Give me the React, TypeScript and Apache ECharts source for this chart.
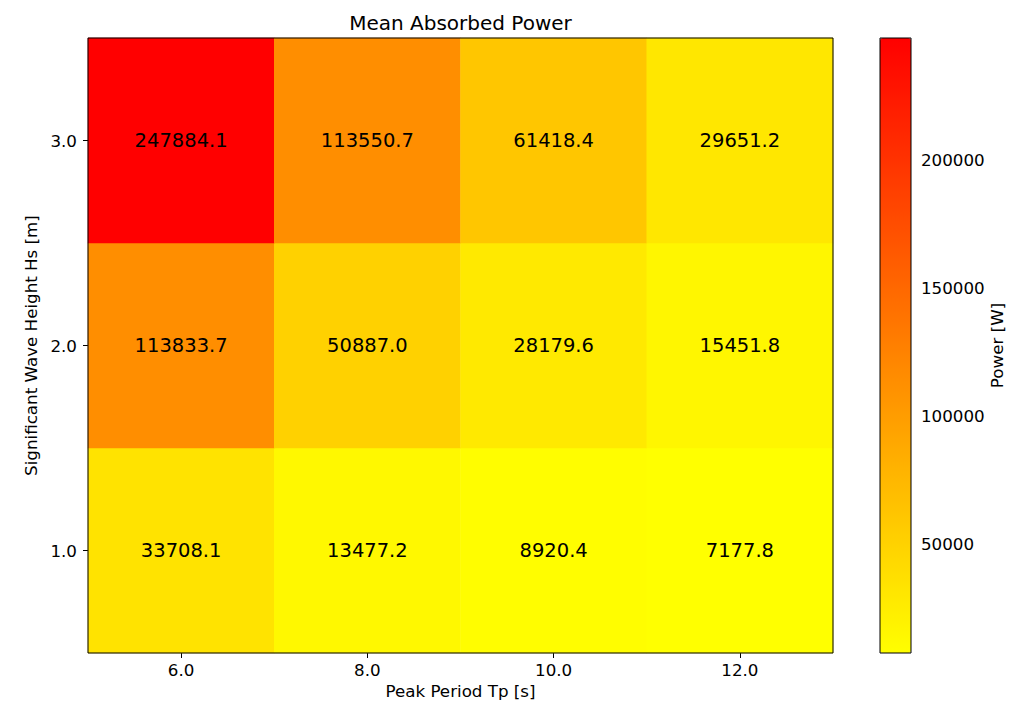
import React, { useEffect, useRef } from 'react';
import * as echarts from 'echarts';

const periods = ['6.0', '8.0', '10.0', '12.0'];
const heights = ['1.0', '2.0', '3.0'];
// mean absorbed power per Hs row, one value per Tp column
const powerHs1 = [33708.1, 13477.2, 8920.4, 7177.8];
const powerHs2 = [113833.7, 50887.0, 28179.6, 15451.8];
const powerHs3 = [247884.1, 113550.7, 61418.4, 29651.2];
const colorbarTicks = [50000, 100000, 150000, 200000];

const FONT = 'DejaVu Sans';

const App: React.FC = () => {
  const chartRef = useRef<HTMLDivElement>(null);

  useEffect(() => {
    if (!chartRef.current) return;
    document.body.style.margin = '0';

    const chart = echarts.init(chartRef.current, undefined, { renderer: 'svg' });

    const rows = [powerHs1, powerHs2, powerHs3];
    const data: [number, number, number][] = [];
    rows.forEach((row, yi) => row.forEach((v, xi) => data.push([xi, yi, v])));
    const all = rows.flat();
    const vmin = Math.min(...all);
    const vmax = Math.max(...all);

    const tickStyle = { color: '#000', fontSize: 16.7, fontFamily: FONT };

    const option: echarts.EChartsOption = {
      animation: false,
      backgroundColor: '#fff',
      textStyle: { fontFamily: FONT },
      grid: [
        {
          left: 88,
          top: 38,
          width: 745,
          height: 615,
          show: true,
          borderColor: '#000',
          borderWidth: 1,
          backgroundColor: 'transparent',
          z: 3,
        },
        {
          left: 880,
          top: 38,
          width: 31,
          height: 615,
          show: true,
          borderColor: '#000',
          borderWidth: 1,
          backgroundColor: 'transparent',
          z: 6,
        },
      ],
      xAxis: [
        {
          type: 'category',
          data: periods,
          gridIndex: 0,
          axisLine: { show: false },
          axisTick: { show: true, alignWithLabel: true, length: 5, lineStyle: { color: '#000' } },
          axisLabel: { ...tickStyle, margin: 8 },
          splitLine: { show: false },
          name: 'Peak Period Tp [s]',
          nameLocation: 'middle',
          nameGap: 27,
          nameTextStyle: { ...tickStyle },
        },
        {
          type: 'value',
          gridIndex: 1,
          show: false,
          min: 0,
          max: 1,
        },
      ],
      yAxis: [
        {
          type: 'category',
          data: heights,
          gridIndex: 0,
          axisLine: { show: false },
          axisTick: { show: true, alignWithLabel: true, length: 5, lineStyle: { color: '#000' } },
          axisLabel: { ...tickStyle, margin: 11 },
          splitLine: { show: false },
          name: 'Significant Wave Height Hs [m]',
          nameLocation: 'middle',
          nameGap: 45,
          nameTextStyle: { ...tickStyle },
        },
        {
          type: 'value',
          gridIndex: 1,
          position: 'right',
          min: vmin,
          max: vmax,
          axisLine: { show: false },
          axisTick: {
            show: true,
            length: 5,
            customValues: colorbarTicks,
            lineStyle: { color: '#000' },
          },
          axisLabel: {
            ...tickStyle,
            margin: 10,
            customValues: colorbarTicks,
            formatter: (v: number) => String(Math.round(v)),
          },
          splitLine: { show: false },
          name: 'Power [W]',
          nameLocation: 'middle',
          nameRotate: 90,
          nameGap: 77,
          nameTextStyle: { ...tickStyle },
        },
      ],
      visualMap: {
        type: 'continuous',
        seriesIndex: 0,
        dimension: 2,
        min: vmin,
        max: vmax,
        calculable: false,
        hoverLink: false,
        left: 880,
        top: 38,
        padding: 0,
        itemWidth: 31,
        itemHeight: 615,
        inRange: { color: ['#ffff00', '#ff0000'] },
        textStyle: { color: 'transparent' },
      },
      graphic: [
        {
          type: 'text',
          x: 460.5,
          y: 23,
          style: {
            text: 'Mean Absorbed Power',
            textAlign: 'center',
            textVerticalAlign: 'middle',
            fontSize: 20,
            fontFamily: FONT,
            fill: '#000',
          },
        },
      ],
      series: [
        {
          type: 'heatmap',
          xAxisIndex: 0,
          yAxisIndex: 0,
          data,
          label: {
            show: true,
            color: '#000',
            fontSize: 19.5,
            fontFamily: FONT,
            formatter: (p: any) => (p.value[2] as number).toFixed(1),
          },
          emphasis: { disabled: true },
        },
      ],
    };

    chart.setOption(option);

    return () => {
      chart?.dispose();
    };
  }, []);

  return <div ref={chartRef} style={{ width: '1024px', height: '709px' }}></div>;
};

export default App;
